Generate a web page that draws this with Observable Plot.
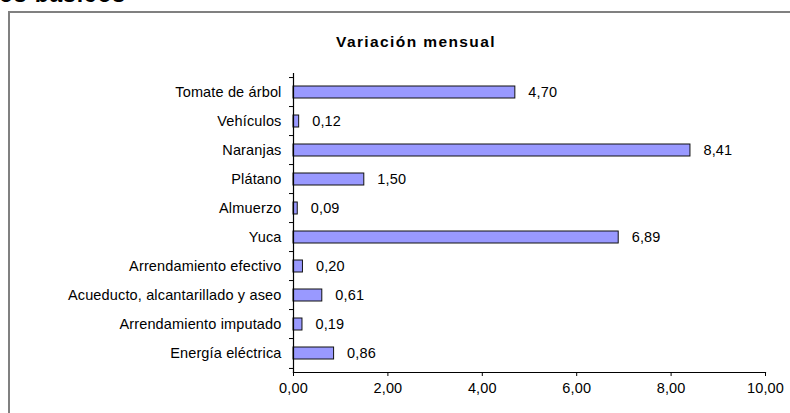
<!DOCTYPE html>
<html>
<head>
<meta charset="utf-8">
<script src="https://cdn.jsdelivr.net/npm/d3@7"></script>
<script src="https://cdn.jsdelivr.net/npm/@observablehq/plot@0.6"></script>
<style>
  html, body { margin: 0; padding: 0; background: #fff; }
  #wrap { position: relative; width: 790px; height: 413px; overflow: hidden; font-family: "Liberation Sans", Arial, sans-serif; }
  #header { position: absolute; left: -1px; top: -17.5px; font-size: 23px; font-weight: bold; line-height: 23px; letter-spacing: 0.8px; white-space: nowrap; color: #000; }
  #frame { position: absolute; left: 8px; top: 11px; width: 820px; height: 430px; border: 2px solid #808080; box-sizing: border-box; }
  #title { position: absolute; left: 216px; width: 400px; top: 33px; text-align: center; font-size: 15.5px; font-weight: bold; letter-spacing: 1.4px; color: #000; }
  #chart { position: absolute; left: 0; top: 0; }
</style>
</head>
<body>
<div id="wrap">
  <div id="header">os básicos</div>
  <div id="frame"></div>
  <div id="title">Variación mensual</div>
  <div id="chart"></div>
</div>
<script>
const categories = [
  "Tomate de árbol",
  "Vehículos",
  "Naranjas",
  "Plátano",
  "Almuerzo",
  "Yuca",
  "Arrendamiento efectivo",
  "Acueducto, alcantarillado y aseo",
  "Arrendamiento imputado",
  "Energía eléctrica"
];
const values = [4.70, 0.12, 8.41, 1.50, 0.09, 6.89, 0.20, 0.61, 0.19, 0.86];
const xTicks = [0, 2, 4, 6, 8, 10];

const data = categories.map((name, i) => ({name, value: values[i]}));
const fmt = v => d3.format(".2f")(v).replace(".", ",");

const marginTop = 73, marginBottom = 41, H = 413;
const step = (H - marginTop - marginBottom) / categories.length;

const chart = Plot.plot({
  width: 790,
  height: H,
  marginLeft: 293,
  marginRight: 25,
  marginTop,
  marginBottom,
  style: {fontFamily: "'Liberation Sans', Arial, sans-serif", fontSize: "14.5px", letterSpacing: "0.15px", color: "#000", background: "transparent", overflow: "visible"},
  x: {domain: [0, 10]},
  y: {domain: categories, paddingInner: 0.6, paddingOuter: 0.3},
  marks: [
    Plot.barX(data, {x: "value", y: "name", fill: "#9999ff", stroke: "#111", strokeWidth: 1}),
    Plot.text(data, {x: "value", y: "name", text: d => fmt(d.value), dx: 13, textAnchor: "start", fill: "#000"}),
    Plot.frame({anchor: "left", stroke: "#000", strokeWidth: 1.2}),
    Plot.frame({anchor: "bottom", stroke: "#000", strokeWidth: 1.2}),
    Plot.axisY({tickSize: 0, tickPadding: 12, label: null, fill: "#000"}),
    Plot.axisY({tickSize: 4, tickFormat: () => "", dy: -step / 2, label: null, stroke: "#000"}),
    Plot.axisY({ticks: [categories[categories.length - 1]], tickSize: 4, tickFormat: () => "", dy: step / 2, label: null, stroke: "#000"}),
    Plot.axisX({ticks: xTicks, tickSize: 4, tickPadding: 6, tickFormat: fmt, label: null, fill: "#000", stroke: "#000"})
  ]
});
document.getElementById("chart").appendChild(chart);
</script>
</body>
</html>
